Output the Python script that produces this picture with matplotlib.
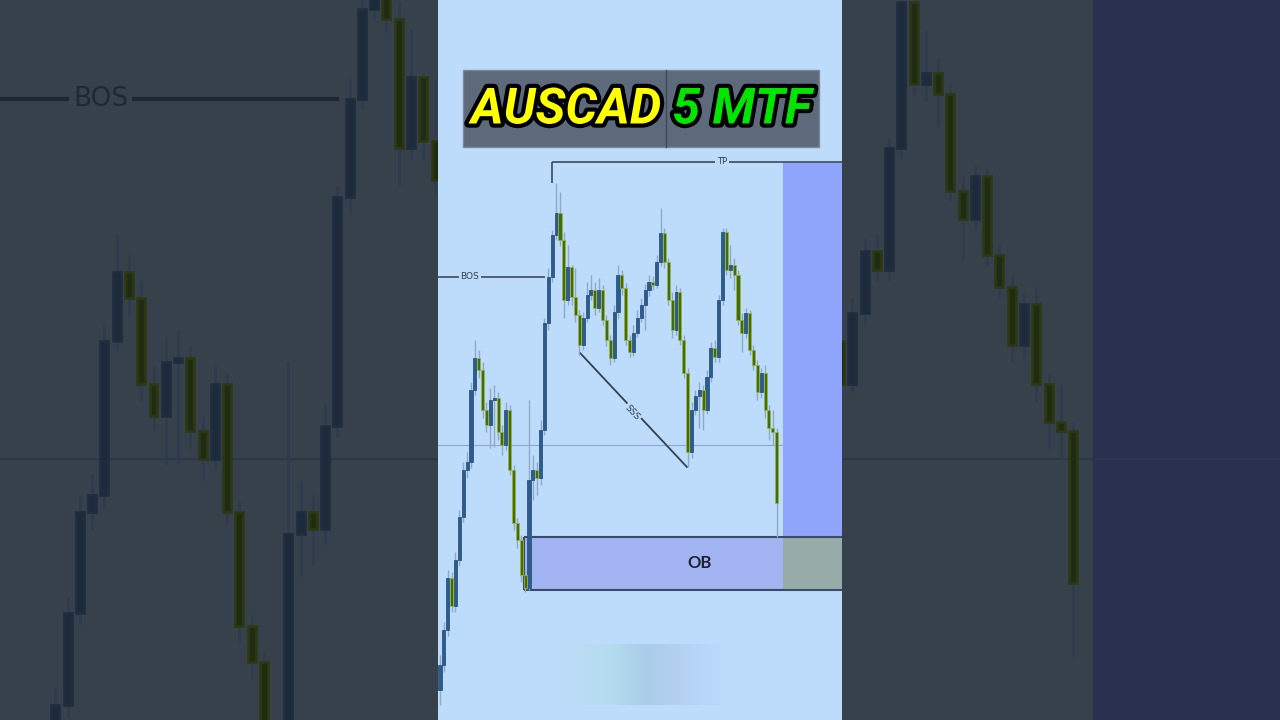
import numpy as np
import matplotlib
matplotlib.use("Agg")
import matplotlib.pyplot as plt
from matplotlib.patches import Rectangle
import matplotlib.patheffects as pe

# ---------------- data (AUDCAD 5m candles) ----------------
first_open = 0.89755
close = [0.89780, 0.89815, 0.89867, 0.89839, 0.89885, 0.89928, 0.89975, 0.89983, 0.90055, 0.90087,
         0.90075, 0.90035, 0.90020, 0.90045, 0.90047, 0.90013, 0.90000, 0.90035, 0.89975, 0.89922,
         0.89905, 0.89870, 0.89857, 0.89965, 0.89975, 0.89967, 0.90015, 0.90122, 0.90168, 0.90210,
         0.90232, 0.90205, 0.90145, 0.90178, 0.90148, 0.90130, 0.90100, 0.90127, 0.90150, 0.90155,
         0.90137, 0.90155, 0.90125, 0.90105, 0.90087, 0.90133, 0.90170, 0.90157, 0.90105, 0.90093,
         0.90112, 0.90127, 0.90140, 0.90155, 0.90163, 0.90160, 0.90183, 0.90212, 0.90183, 0.90145,
         0.90115, 0.90153, 0.90105, 0.90072, 0.89993, 0.90035, 0.90049, 0.90055, 0.90035, 0.90068,
         0.90097, 0.90088, 0.90145, 0.90213, 0.90175, 0.90180, 0.90170, 0.90125, 0.90112, 0.90132,
         0.90095, 0.90080, 0.90053, 0.90072, 0.90035, 0.90017, 0.90013, 0.89942]
high = [0.89790, 0.89823, 0.89875, 0.89873, 0.89893, 0.89935, 0.89983, 0.89993, 0.90063, 0.90105,
        0.90095, 0.90083, 0.90043, 0.90057, 0.90060, 0.90053, 0.90020, 0.90043, 0.90040, 0.89980,
        0.89927, 0.89910, 0.89875, 0.90045, 0.89990, 0.89983, 0.90025, 0.90127, 0.90177, 0.90215,
        0.90262, 0.90253, 0.90213, 0.90200, 0.90180, 0.90177, 0.90135, 0.90133, 0.90163, 0.90170,
        0.90163, 0.90167, 0.90160, 0.90130, 0.90110, 0.90140, 0.90180, 0.90175, 0.90162, 0.90110,
        0.90120, 0.90135, 0.90147, 0.90161, 0.90170, 0.90169, 0.90190, 0.90237, 0.90217, 0.90187,
        0.90153, 0.90160, 0.90157, 0.90110, 0.90077, 0.90043, 0.90055, 0.90063, 0.90060, 0.90075,
        0.90103, 0.90105, 0.90150, 0.90217, 0.90217, 0.90200, 0.90187, 0.90175, 0.90132, 0.90137,
        0.90135, 0.90100, 0.90085, 0.90077, 0.90080, 0.90040, 0.90035, 0.90017]
low = [0.89740, 0.89773, 0.89809, 0.89833, 0.89833, 0.89879, 0.89923, 0.89967, 0.89977, 0.90050,
       0.90067, 0.90027, 0.90013, 0.89997, 0.89998, 0.90005, 0.89990, 0.89995, 0.89970, 0.89915,
       0.89897, 0.89863, 0.89853, 0.89855, 0.89945, 0.89950, 0.89960, 0.90010, 0.90115, 0.90163,
       0.90205, 0.90199, 0.90127, 0.90140, 0.90140, 0.90123, 0.90090, 0.90095, 0.90123, 0.90145,
       0.90130, 0.90133, 0.90120, 0.90099, 0.90080, 0.90083, 0.90127, 0.90150, 0.90100, 0.90088,
       0.90089, 0.90108, 0.90123, 0.90115, 0.90149, 0.90155, 0.90157, 0.90179, 0.90177, 0.90140,
       0.90107, 0.90110, 0.90100, 0.90067, 0.89978, 0.89987, 0.90030, 0.90017, 0.90015, 0.90031,
       0.90063, 0.90083, 0.90083, 0.90140, 0.90170, 0.90167, 0.90155, 0.90120, 0.90093, 0.90107,
       0.90090, 0.90075, 0.90045, 0.90047, 0.90027, 0.90005, 0.90000, 0.89908]

tp_level = 0.90283
bos_level = 0.90168
mid_level = 0.90000
ob_top = 0.89908
ob_bottom = 0.89855
sss_start = (36.2, 0.90092)
sss_end = (63.8, 0.89978)

title_left = "AUSCAD"
title_right = "5 MTF"

# ---------------- layout ----------------
W, H = 1280, 720
XLIM = (-0.52, 103.88)
CENTER_YLIM = (0.89725, 0.90445)
BG_YLIM = (0.89878, 0.90214)
ZONE_X0 = 88.63
OB_X0 = 21.7
TP_X0 = 28.9
BOS_X1 = 27.1

opens = np.concatenate([[first_open], np.array(close[:-1])])
closes = np.array(close)
highs = np.array(high)
lows = np.array(low)
idx = np.arange(len(closes))
up = closes >= opens


def draw_candles(ax, up_c, up_e, dn_c, dn_e, wick_c, width, wick_lw, body_lw, alpha=1.0):
    ax.vlines(idx, lows, highs, color=wick_c, lw=wick_lw, zorder=3, alpha=alpha)
    bottoms = np.minimum(opens, closes)
    heights = np.abs(closes - opens)
    ax.bar(idx[up], heights[up], bottom=bottoms[up], width=width,
           color=up_c, edgecolor=up_e, linewidth=body_lw, zorder=4, alpha=alpha)
    ax.bar(idx[~up], heights[~up], bottom=bottoms[~up], width=width,
           color=dn_c, edgecolor=dn_e, linewidth=body_lw, zorder=4, alpha=alpha)


fig = plt.figure(figsize=(W / 100, H / 100), dpi=100, facecolor="#37414b")

# ---------- blurred / dimmed background (stretched copy) ----------
bg = fig.add_axes([0, 0, 1, 1], zorder=0)
bg.set_facecolor("#37414b")
for s in bg.spines.values():
    s.set_visible(False)
bg.set_xticks([]); bg.set_yticks([])
bg.set_xlim(*XLIM); bg.set_ylim(*BG_YLIM)
bg.axvspan(ZONE_X0, XLIM[1], color="#2a3150", zorder=1)
bg.axhline(mid_level, color="#2d374a", lw=1.5, zorder=2)
bg.hlines(bos_level, XLIM[0], BOS_X1, color="#1d2732", lw=3, zorder=2)
bg.text(7.7, bos_level, "BOS", fontsize=19, color="#1f2933", ha="center", va="center",
        zorder=3, bbox=dict(boxstyle="square,pad=0.15", fc="#37414b", ec="none"))
draw_candles(bg, "#1a2839", "#1f2d3f", "#1f2b0c", "#2c3910", "#2f3c4f", 0.65, 2.0, 2.0, alpha=0.9)

# ---------- center chart ----------
ax = fig.add_axes([438 / W, 0, 404 / W, 1], zorder=2)
BGC = "#bddcfb"
ax.set_facecolor(BGC)
for s in ax.spines.values():
    s.set_visible(False)
ax.set_xticks([]); ax.set_yticks([])
ax.set_xlim(*XLIM); ax.set_ylim(*CENTER_YLIM)

ax.axhline(mid_level, color="#90a5d6", lw=0.8, zorder=1)
# target zone
ax.add_patch(Rectangle((ZONE_X0, ob_top), XLIM[1] - ZONE_X0, tp_level - ob_top,
                       fc="#8fa4fb", ec="none", zorder=1))
# order block
ax.add_patch(Rectangle((OB_X0, ob_bottom), ZONE_X0 - OB_X0, ob_top - ob_bottom,
                       fc="#a1b4f1", ec="none", zorder=1))
ax.add_patch(Rectangle((ZONE_X0, ob_bottom), XLIM[1] - ZONE_X0, ob_top - ob_bottom,
                       fc="#97aca8", ec="none", zorder=1))
ax.hlines([ob_top, ob_bottom], OB_X0, XLIM[1], color="#3b4a66", lw=1.5, zorder=2)
ax.vlines(OB_X0, ob_bottom, ob_top, color="#3b4a66", lw=1.5, zorder=2)
ax.text(67.2, (ob_top + ob_bottom) / 2, "OB", fontsize=12, family="Lato", weight="bold",
        color="#1e2230", ha="center", va="center", zorder=6)

# TP
ax.hlines(tp_level, TP_X0, XLIM[1], color="#3c4a5c", lw=1.2, zorder=2)
ax.vlines(TP_X0, high[30], tp_level, color="#3c4a5c", lw=1.2, zorder=2)
ax.text(72.9, tp_level, "TP", fontsize=6, color="#2f3d4e", ha="center", va="center", zorder=6,
        bbox=dict(boxstyle="square,pad=0.2", fc=BGC, ec="none"))
# BOS
ax.hlines(bos_level, XLIM[0], BOS_X1, color="#3c4a5c", lw=1.2, zorder=2)
ax.text(7.7, bos_level, "BOS", fontsize=6.5, color="#2f3d4e", ha="center", va="center", zorder=6,
        bbox=dict(boxstyle="square,pad=0.2", fc=BGC, ec="none"))
# SSS
ax.plot([sss_start[0], sss_end[0]], [sss_start[1], sss_end[1]], color="#34404f", lw=1.3, zorder=2)
ax.text(49.6, 0.90032, "SSS", fontsize=6.5, color="#2f3d4e", ha="center", va="center",
        rotation=-47, zorder=6,
        bbox=dict(boxstyle="square,pad=0.15", fc=BGC, ec="none"))

draw_candles(ax, "#2e5b8a", "#2b5683", "#3f6e12", "#9cb23a", "#8fa7c9", 0.8, 1.0, 0.6)

# faded smudge near bottom
grad = np.array([[[0.74, 0.86, 0.97], [0.72, 0.87, 0.95], [0.70, 0.86, 0.93],
                  [0.66, 0.80, 0.90], [0.68, 0.80, 0.92], [0.71, 0.82, 0.96],
                  [0.73, 0.85, 0.98]]])
ax.imshow(grad, extent=(31.0, 72.3, 0.89740, 0.89800), aspect="auto",
          interpolation="bicubic", zorder=1, alpha=0.9)
ax.set_xlim(*XLIM); ax.set_ylim(*CENTER_YLIM)

# ---------- title box ----------
fig.add_artist(Rectangle((463 / W, 1 - 147 / H), 356 / W, 77 / H, transform=fig.transFigure,
                         fc="#5c6a7b", ec="#7d8896", lw=1, zorder=5))
fig.add_artist(plt.Line2D([666 / W, 666 / W], [1 - 147 / H, 1 - 70 / H], transform=fig.transFigure,
                          color="#3e4a58", lw=1, zorder=6))
stroke = [pe.withStroke(linewidth=6, foreground="black")]
fig.text(566 / W, 1 - 110 / H, title_left, fontsize=36, family="Roboto", weight="bold",
         style="italic", color="#ffff00", ha="center", va="center", path_effects=stroke, zorder=7)
fig.text(742 / W, 1 - 110 / H, title_right, fontsize=36, family="Roboto", weight="bold",
         style="italic", color="#00e600", ha="center", va="center", path_effects=stroke, zorder=7)

fig.savefig("out.png", dpi=100, facecolor=fig.get_facecolor())
